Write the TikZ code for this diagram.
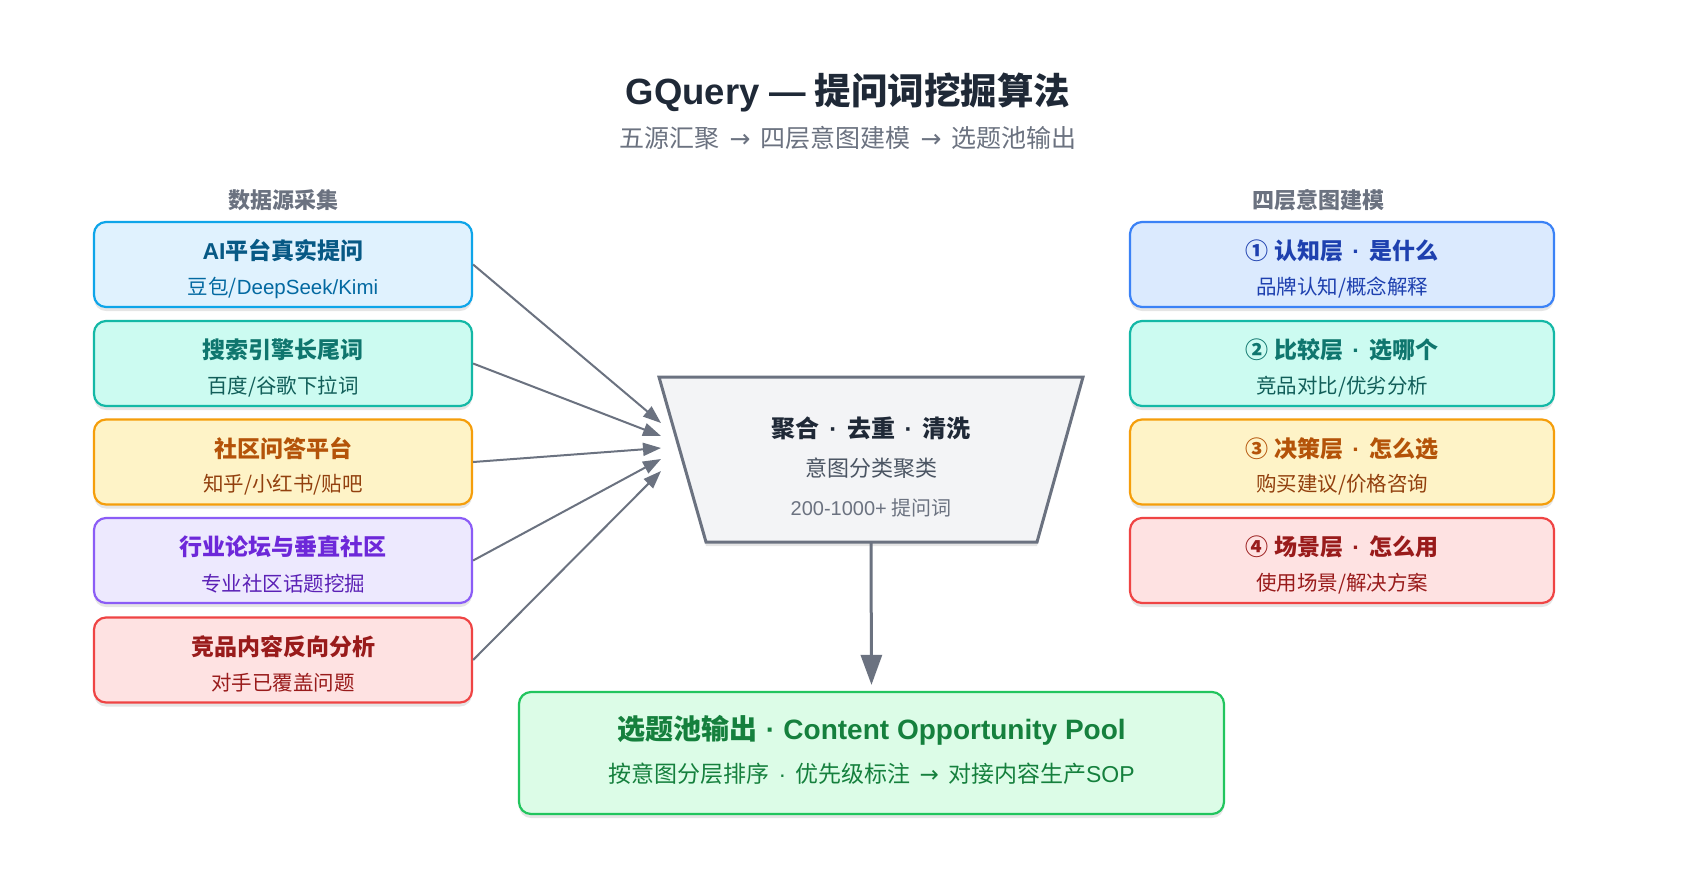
\documentclass[tikz,border=0pt]{standalone}
\usepackage{fontspec}
\setmainfont{Noto Sans CJK SC}
\newfontfamily\lat{Liberation Sans}
\newfontfamily\symf{DejaVu Sans}
\newcommand\mydot{\hspace{0.4em}{\lat ·}\hspace{0.4em}}
\newcommand\myarr{\hspace{0.4em}{\symf →}\hspace{0.4em}}
\usetikzlibrary{arrows.meta,shadows}
\definecolor{skyF}{HTML}{E0F2FE}\definecolor{skyB}{HTML}{0EA5E9}\definecolor{skyT}{HTML}{075985}\definecolor{skyS}{HTML}{0369A1}
\definecolor{tealF}{HTML}{CCFBF1}\definecolor{tealB}{HTML}{14B8A6}\definecolor{tealT}{HTML}{0F766E}\definecolor{tealS}{HTML}{115E59}
\definecolor{ambF}{HTML}{FEF3C7}\definecolor{ambB}{HTML}{F59E0B}\definecolor{ambT}{HTML}{B45309}\definecolor{ambS}{HTML}{92400E}
\definecolor{vioF}{HTML}{EDE9FE}\definecolor{vioB}{HTML}{8B5CF6}\definecolor{vioT}{HTML}{6D28D9}\definecolor{vioS}{HTML}{5B21B6}
\definecolor{redF}{HTML}{FEE2E2}\definecolor{redB}{HTML}{EF4444}\definecolor{redT}{HTML}{991B1B}\definecolor{redS}{HTML}{991B1B}
\definecolor{bluF}{HTML}{DBEAFE}\definecolor{bluB}{HTML}{3B82F6}\definecolor{bluT}{HTML}{1E40AF}\definecolor{bluS}{HTML}{1E40AF}
\definecolor{grnF}{HTML}{DCFCE7}\definecolor{grnB}{HTML}{22C55E}\definecolor{grnT}{HTML}{15803D}\definecolor{grnS}{HTML}{15803D}
\definecolor{gryF}{HTML}{F3F4F6}\definecolor{gryB}{HTML}{6B7280}
\definecolor{ink}{HTML}{1F2937}\definecolor{ink2}{HTML}{4B5563}\definecolor{ink3}{HTML}{6B7280}
\newcommand\mycard[7]{%
  \node[card, minimum width=#4, fill=#5F, draw=#5B] (#1) at (#2,#3) {};
  \node[ttl, text=#5T] (#1-t) at (#2,#3-13.5) {#6};
  \node[sub, text=#5S] (#1-s) at (#2,#3+23) {#7};
}
\begin{document}
\begin{tikzpicture}[x=1pt,y=-1pt,
  card/.style={line width=2.2pt, rounded corners=12pt, minimum height=85pt, inner sep=0pt,
    drop shadow={shadow xshift=0pt, shadow yshift=-4pt, opacity=0.10, fill=black}},
  ttl/.style={inner sep=0pt, font=\fontsize{23pt}{27pt}\selectfont\bfseries},
  sub/.style={inner sep=0pt, font=\fontsize{20.5pt}{24pt}\selectfont},
  heading/.style={inner sep=0pt, text=ink3, font=\fontsize{22pt}{26pt}\selectfont\bfseries},
  arr/.style={draw=gryB, line width=2pt, -{Triangle[length=18pt,width=13pt]}},
  darr/.style={draw=gryB, line width=3pt, -{Triangle[length=30pt,width=21pt]}}]
\useasboundingbox[fill=white] (0,0) rectangle (1696,884);

% title
\node[inner sep=0pt, text=ink, font=\fontsize{36.5pt}{40pt}\selectfont\bfseries] (title) at (848,92) {{\lat GQuery —} 提问词挖掘算法};
\node[inner sep=0pt, text=ink3, font=\fontsize{25pt}{28pt}\selectfont] (subtitle) at (848,138) {五源汇聚\myarr 四层意图建模\myarr 选题池输出};

% headings
\node[heading] (hl) at (283,200) {数据源采集};
\node[heading] (hr) at (1318,200) {四层意图建模};

% left cards
\mycard{l1}{283}{264.5}{378pt}{sky}{{\lat AI}平台真实提问}{豆包/{\lat DeepSeek/Kimi}}
\mycard{l2}{283}{363.5}{378pt}{teal}{搜索引擎长尾词}{百度/谷歌下拉词}
\mycard{l3}{283}{462}{378pt}{amb}{社区问答平台}{知乎/小红书/贴吧}
\mycard{l4}{283}{560.5}{378pt}{vio}{行业论坛与垂直社区}{专业社区话题挖掘}
\mycard{l5}{283}{660}{378pt}{red}{竞品内容反向分析}{对手已覆盖问题}

% right cards
\mycard{r1}{1342}{264.5}{424pt}{blu}{① 认知层\mydot 是什么}{品牌认知/概念解释}
\mycard{r2}{1342}{363.5}{424pt}{teal}{② 比较层\mydot 选哪个}{竞品对比/优劣分析}
\mycard{r3}{1342}{462}{424pt}{amb}{③ 决策层\mydot 怎么选}{购买建议/价格咨询}
\mycard{r4}{1342}{560.5}{424pt}{red}{④ 场景层\mydot 怎么用}{使用场景/解决方案}

% funnel
\coordinate (f1) at (659,377);
\coordinate (f2) at (1083,377);
\coordinate (f3) at (1037,542);
\coordinate (f4) at (706,542);
\coordinate (fb) at (871,542);
\draw[fill=gryF, draw=gryB, line width=3pt, line join=miter,
  drop shadow={shadow xshift=0pt, shadow yshift=-4pt, opacity=0.10, fill=black}]
  (f1) -- (f2) -- (f3) -- (f4) -- cycle;
\node[inner sep=0pt, text=ink, font=\fontsize{24pt}{27pt}\selectfont\bfseries] (c1) at (871,428) {聚合\mydot 去重\mydot 清洗};
\node[inner sep=0pt, text=ink2, font=\fontsize{22pt}{26pt}\selectfont] (c2) at (871,468) {意图分类聚类};
\node[inner sep=0pt, text=ink3, font=\fontsize{20pt}{24pt}\selectfont] (c3) at (871,508) {{\lat 200-1000+} 提问词};

% arrow targets
\coordinate (t1) at (661,423);
\coordinate (t2) at (661,436);
\coordinate (t3) at (661,448);
\coordinate (t4) at (661,459);
\coordinate (t5) at (661,471);
\draw[arr] (l1.east) -- (t1);
\draw[arr] (l2.east) -- (t2);
\draw[arr] (l3.east) -- (t3);
\draw[arr] (l4.east) -- (t4);
\draw[arr] (l5.east) -- (t5);

% output
\node[card, minimum width=705pt, minimum height=122pt, fill=grnF, draw=grnB] (out) at (871.5,753) {};
\node[inner sep=0pt, text=grnT, font=\fontsize{28pt}{32pt}\selectfont\bfseries] (out-t) at (871.5,730) {选题池输出\hspace{0.3em}{\lat ·}\hspace{0.3em}{\lat Content Opportunity Pool}};
\node[inner sep=0pt, text=grnS, font=\fontsize{23pt}{26pt}\selectfont] (out-s) at (871.5,774) {按意图分层排序\mydot 优先级标注\myarr 对接内容生产{\lat SOP}};

\draw[darr, shorten >=6pt] (fb) -- (out.north);
\end{tikzpicture}
\end{document}
